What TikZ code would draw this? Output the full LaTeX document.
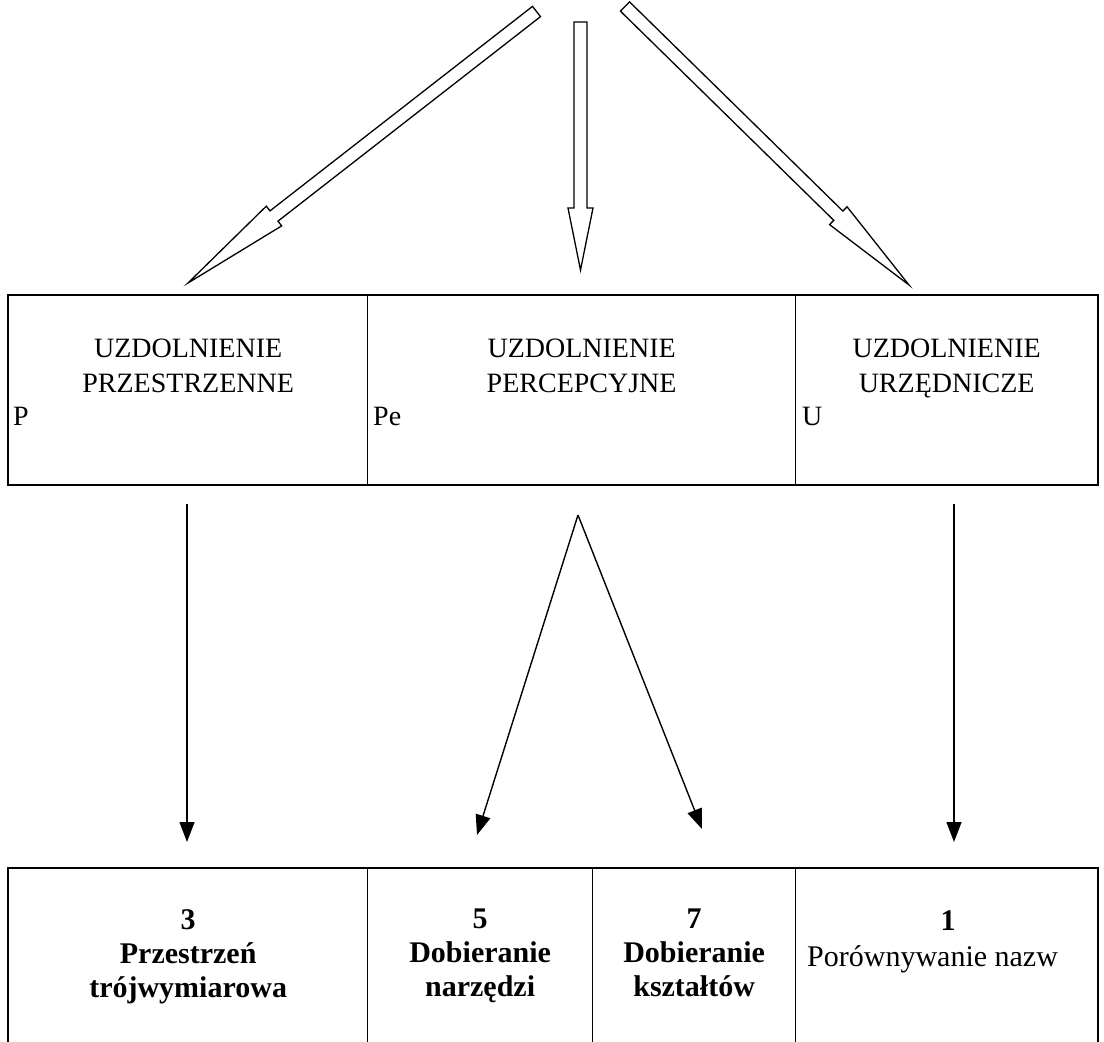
\documentclass[tikz,border=0pt]{standalone}
\usepackage{fontspec}
\setmainfont{Liberation Serif}
\usetikzlibrary{arrows.meta,calc,positioning}

% outlined block arrow: start, tip, head length
\newcommand{\hollowarrow}[3]{%
  \coordinate (hb) at ($(#2)!#3!(#1)$);
  \draw[hollow] ($(#1)!6.5pt!90:(#2)$) -- ($(hb)!6.5pt!90:(#2)$)
    -- ($(hb)!12.5pt!90:(#2)$) -- (#2) -- ($(hb)!12.5pt!-90:(#2)$)
    -- ($(hb)!6.5pt!-90:(#2)$) -- ($(#1)!6.5pt!-90:(#2)$) -- cycle;
}

\begin{document}
\begin{tikzpicture}[
  x=1pt, y=-1pt,
  font=\fontsize{28}{35}\selectfont,
  >={Triangle[length=20pt,width=15pt]},
  flow/.style={->, line width=1.4pt},
  hollow/.style={draw, line width=1.3pt, fill=white, line join=miter},
  frame/.style={line width=2.2pt},
  cell/.style={
    draw,
    line width=1.3pt,
    inner sep=0pt,
    anchor=north west,
    minimum height=189pt
  },
  slot/.style={
    draw,
    line width=1.3pt,
    inner sep=0pt,
    anchor=north west,
    minimum height=200pt
  },
  title/.style={align=center, inner sep=0pt, anchor=north},
  tag/.style={inner sep=0pt, anchor=base west},
  task/.style={
    align=center,
    inner sep=0pt,
    anchor=north,
    font=\fontsize{30}{34}\selectfont\bfseries
  }
]
\useasboundingbox (0,0) rectangle (1104,1042);
\clip (0,0) rectangle (1104,1042);

% Three block arrows coming in from above.
\coordinate (sP) at (536.5,11.5);
\coordinate (tP) at (188,283);
\coordinate (sPe) at (580.5,22);
\coordinate (tPe) at (580.5,270);
\coordinate (sU) at (625,6.5);
\coordinate (tU) at (909,285);
\hollowarrow{sP}{tP}{109pt}
\hollowarrow{sPe}{tPe}{62pt}
\hollowarrow{sU}{tU}{99pt}

% Upper row of abilities.
\node[cell, minimum width=359pt] (cP) at (8,295) {};
\node[cell, minimum width=428pt] (cPe) at (367,295) {};
\node[cell, minimum width=302pt] (cU) at (795,295) {};
\draw[frame] (cP.north west) rectangle (cU.south east);
\node[title] (tiP) at ($(cP.north)+(0,44)$) {UZDOLNIENIE\\PRZESTRZENNE};
\node[title] (tiPe) at ($(cPe.north)+(0,44)$) {UZDOLNIENIE\\PERCEPCYJNE};
\node[title] (tiU) at ($(cU.north)+(0,44)$) {UZDOLNIENIE\\URZĘDNICZE};
\node[tag] (lP) at (13,425) {P};
\node[tag] (lPe) at (373,425) {Pe};
\node[tag] (lU) at (802,425) {U};

% Lower row of tasks, cut off at the page edge.
\node[slot, minimum width=359pt] (c3) at (8,868) {};
\node[slot, minimum width=225pt] (c5) at (367,868) {};
\node[slot, minimum width=203pt] (c7) at (592,868) {};
\node[slot, minimum width=302pt] (c1) at (795,868) {};
\draw[frame] (c3.south west) -- (c3.north west) -- (c1.north east) -- (c1.south east);
\node[task] (t3) at ($(c3.north)+(0,41)$) {3\\Przestrzeń\\trójwymiarowa};
\node[task] (t5) at ($(c5.north)+(0,41)$) {5\\Dobieranie\\narzędzi};
\node[task] (t7) at ($(c7.north)+(0,41)$) {7\\Dobieranie\\kształtów};
\node[task, anchor=base] (t1) at (948,930) {1};
\node[tag, font=\fontsize{30}{34}\selectfont] (n1) at (807,966) {Porównywanie nazw};

% Links from abilities to tasks.
\coordinate (aP) at (187,504);
\coordinate (a3) at (187,842);
\coordinate (aPe) at (578,515);
\coordinate (a5) at (477,835);
\coordinate (a7) at (702,829);
\coordinate (aU) at (954,504);
\coordinate (a1) at (954,842);
\draw[flow] (aP) -- (a3);
\draw[flow] (aPe) -- (a5);
\draw[flow] (aPe) -- (a7);
\draw[flow] (aU) -- (a1);

\end{tikzpicture}
\end{document}
